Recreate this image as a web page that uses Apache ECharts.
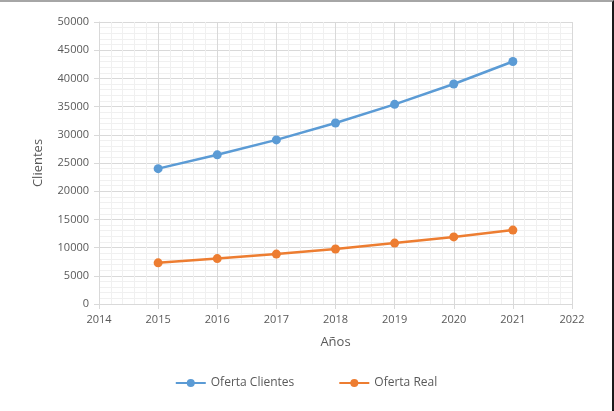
<!DOCTYPE html>
<html>
<head>
<meta charset="utf-8">
<script src="https://cdn.jsdelivr.net/npm/echarts@6/dist/echarts.min.js"></script>
<style>
  html, body { margin: 0; padding: 0; background: #fff; }
  #main { width: 612px; height: 409px; border-top: 2px solid #a6a6a6; border-right: 2px solid #1a1a1a; }
</style>
</head>
<body>
<div id="main"></div>
<script>
var years = [2015, 2016, 2017, 2018, 2019, 2020, 2021];
var ofertaClientes = [24000, 26450, 29100, 32100, 35400, 39000, 43000];
var ofertaReal = [7300, 8050, 8850, 9750, 10800, 11900, 13100];

(function () {
  var myChart = echarts.init(document.getElementById('main'));
  var font = 'Open Sans';

  function pairs(vals) {
    return years.map(function (y, i) { return [y, vals[i]]; });
  }

  var option = {
    animation: false,
    textStyle: { fontFamily: font },
    grid: { left: 99, right: 40, top: 20, bottom: 107 },
    legend: {
      bottom: 17,
      left: 'center',
      itemGap: 44,
      itemWidth: 30,
      itemHeight: 10,
      textStyle: { color: '#595959', fontSize: 12, fontFamily: font },
      data: ['Oferta Clientes', 'Oferta Real']
    },
    xAxis: {
      type: 'value',
      min: 2014,
      max: 2022,
      interval: 1,
      name: 'Años',
      nameLocation: 'middle',
      nameGap: 32,
      nameTextStyle: { color: '#595959', fontSize: 13, fontFamily: font },
      axisLine: { show: true, lineStyle: { color: '#d9d9d9' } },
      axisTick: { show: true, length: 5, lineStyle: { color: '#d9d9d9' } },
      axisLabel: { color: '#595959', fontSize: 11, margin: 10, formatter: function (v) { return String(v); } },
      splitLine: { show: true, lineStyle: { color: '#d9d9d9' } },
      minorTick: { show: true, splitNumber: 5, length: 0 },
      minorSplitLine: { show: true, lineStyle: { color: '#f0f0f0' } }
    },
    yAxis: {
      type: 'value',
      min: 0,
      max: 50000,
      interval: 5000,
      name: 'Clientes',
      nameLocation: 'middle',
      nameGap: 54,
      nameTextStyle: { color: '#595959', fontSize: 13, fontFamily: font },
      axisLine: { show: true, lineStyle: { color: '#d9d9d9' } },
      axisTick: { show: true, length: 5, lineStyle: { color: '#d9d9d9' } },
      axisLabel: { color: '#595959', fontSize: 11, margin: 10, formatter: function (v) { return String(v); } },
      splitLine: { show: true, lineStyle: { color: '#d9d9d9' } },
      minorTick: { show: true, splitNumber: 5, length: 0 },
      minorSplitLine: { show: true, lineStyle: { color: '#f0f0f0' } }
    },
    series: [
      {
        name: 'Oferta Clientes',
        type: 'line',
        data: pairs(ofertaClientes),
        symbol: 'circle',
        symbolSize: 9,
        color: '#5b9bd5',
        lineStyle: { width: 2.5, color: '#5b9bd5' },
        itemStyle: { color: '#5b9bd5' }
      },
      {
        name: 'Oferta Real',
        type: 'line',
        data: pairs(ofertaReal),
        symbol: 'circle',
        symbolSize: 9,
        color: '#ed7d31',
        lineStyle: { width: 2.5, color: '#ed7d31' },
        itemStyle: { color: '#ed7d31' }
      }
    ]
  };

  myChart.setOption(option);
  window.addEventListener('resize', function () { myChart.resize(); });
})();
</script>
</body>
</html>
